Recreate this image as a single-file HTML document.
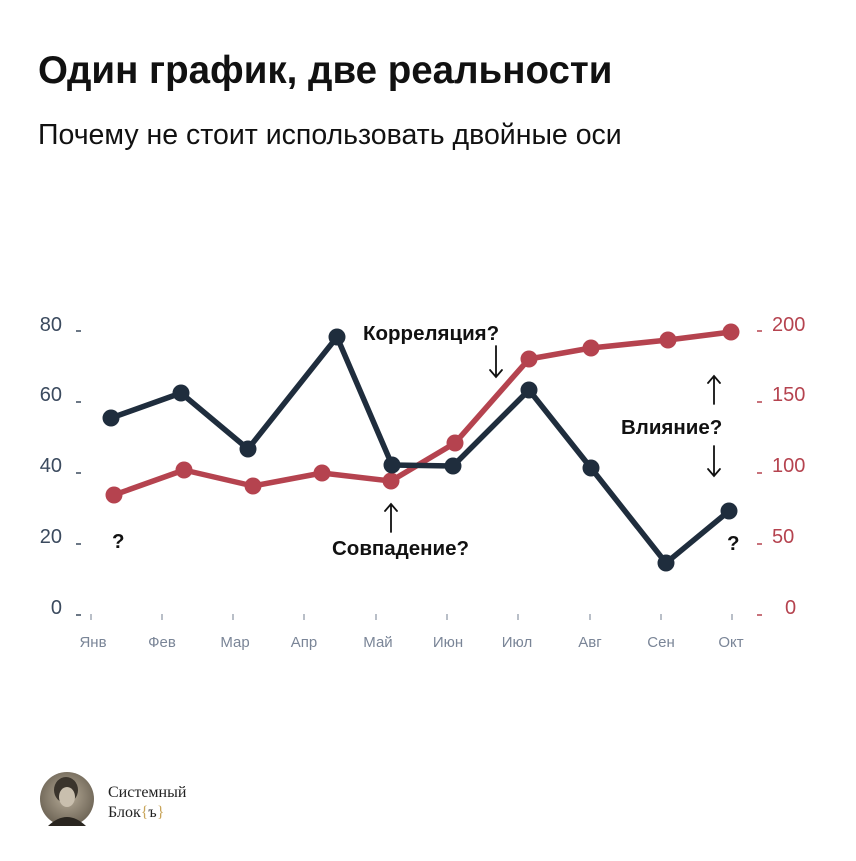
<!DOCTYPE html>
<html><head><meta charset="utf-8"><style>
body{margin:0;background:#fff;width:856px;height:856px;overflow:hidden;font-family:"Liberation Sans","Noto Sans CJK SC",sans-serif}
</style></head><body>
<svg width="856" height="856" viewBox="0 0 856 856" xmlns="http://www.w3.org/2000/svg" font-family="Liberation Sans, DejaVu Sans, sans-serif">
<text x="38" y="83" font-size="38.5" font-weight="bold" fill="#111">Один график, две реальности</text>
<text x="38" y="144" font-size="28.5" fill="#111">Почему не стоит использовать двойные оси</text>
<g font-size="20" fill="#3b4a5e" text-anchor="end">
<text x="62" y="331">80</text><text x="62" y="401">60</text><text x="62" y="472">40</text><text x="62" y="543">20</text><text x="62" y="614">0</text>
</g>
<g stroke="#3b4a5e" stroke-width="1.5">
<line x1="76" y1="331" x2="81" y2="331"/><line x1="76" y1="402" x2="81" y2="402"/><line x1="76" y1="473" x2="81" y2="473"/><line x1="76" y1="544" x2="81" y2="544"/><line x1="76" y1="615" x2="81" y2="615"/>
</g>
<g font-size="20" fill="#b5434f">
<text x="772" y="331">200</text><text x="772" y="401">150</text><text x="772" y="472">100</text><text x="772" y="543">50</text><text x="785" y="614">0</text>
</g>
<g stroke="#b5434f" stroke-width="1.5">
<line x1="757" y1="331" x2="762" y2="331"/><line x1="757" y1="402" x2="762" y2="402"/><line x1="757" y1="473" x2="762" y2="473"/><line x1="757" y1="544" x2="762" y2="544"/><line x1="757" y1="615" x2="762" y2="615"/>
</g>
<g stroke="#8a94a3" stroke-width="1.2">
<line x1="91" y1="614" x2="91" y2="620"/><line x1="162" y1="614" x2="162" y2="620"/><line x1="233" y1="614" x2="233" y2="620"/><line x1="304" y1="614" x2="304" y2="620"/><line x1="376" y1="614" x2="376" y2="620"/><line x1="447" y1="614" x2="447" y2="620"/><line x1="518" y1="614" x2="518" y2="620"/><line x1="590" y1="614" x2="590" y2="620"/><line x1="661" y1="614" x2="661" y2="620"/><line x1="732" y1="614" x2="732" y2="620"/>
</g>
<g font-size="15" fill="#7a8597" text-anchor="middle">
<text x="93" y="647">Янв</text><text x="162" y="647">Фев</text><text x="235" y="647">Мар</text><text x="304" y="647">Апр</text><text x="378" y="647">Май</text><text x="448" y="647">Июн</text><text x="517" y="647">Июл</text><text x="590" y="647">Авг</text><text x="661" y="647">Сен</text><text x="731" y="647">Окт</text>
</g>
<polyline fill="none" stroke="#b5434f" stroke-width="5.5" stroke-linejoin="round" points="114,495 184,470 253,486 322,473 391,481 455,443 529,359 591,348 668,340 731,332"/>
<g fill="#b5434f">
<circle cx="114" cy="495" r="8.5"/><circle cx="184" cy="470" r="8.5"/><circle cx="253" cy="486" r="8.5"/><circle cx="322" cy="473" r="8.5"/><circle cx="391" cy="481" r="8.5"/><circle cx="455" cy="443" r="8.5"/><circle cx="529" cy="359" r="8.5"/><circle cx="591" cy="348" r="8.5"/><circle cx="668" cy="340" r="8.5"/><circle cx="731" cy="332" r="8.5"/>
</g>
<polyline fill="none" stroke="#1f2d3d" stroke-width="5.5" stroke-linejoin="round" points="111,418 181,393 248,449 337,337 392,465 453,466 529,390 591,468 666,563 729,511"/>
<g fill="#1f2d3d">
<circle cx="111" cy="418" r="8.5"/><circle cx="181" cy="393" r="8.5"/><circle cx="248" cy="449" r="8.5"/><circle cx="337" cy="337" r="8.5"/><circle cx="392" cy="465" r="8.5"/><circle cx="453" cy="466" r="8.5"/><circle cx="529" cy="390" r="8.5"/><circle cx="591" cy="468" r="8.5"/><circle cx="666" cy="563" r="8.5"/><circle cx="729" cy="511" r="8.5"/>
</g>
<g font-size="20.5" font-weight="bold" fill="#111">
<text x="363" y="340">Корреляция?</text>
<text x="332" y="555">Совпадение?</text>
<text x="621" y="434">Влияние?</text>
<text x="112" y="548">?</text>
<text x="727" y="550">?</text>
</g>
<g stroke="#111" stroke-width="1.8" fill="none" stroke-linecap="round">
<path d="M496 346 V377 M490 370 L496 377 L502 370"/>
<path d="M391 532 V504 M385 511 L391 504 L397 511"/>
<path d="M714 404 V376 M708 383 L714 376 L720 383"/>
<path d="M714 446 V476 M708 469 L714 476 L720 469"/>
</g>
<defs><radialGradient id="g" cx="50%" cy="45%" r="55%"><stop offset="0" stop-color="#b8ad9a"/><stop offset="1" stop-color="#6e6556"/></radialGradient></defs>
<circle cx="67" cy="799" r="27" fill="url(#g)"/>
<ellipse cx="66" cy="790" rx="12" ry="13" fill="#3a342c"/>
<ellipse cx="67" cy="797" rx="8" ry="10" fill="#c9bfae"/>
<path d="M48 826 Q67 808 86 826 Z" fill="#2a2620"/>
<g font-family="Liberation Serif, DejaVu Serif, serif" font-size="16" fill="#222">
<text x="108" y="797">Системный</text>
<text x="108" y="817">Блок<tspan fill="#c9a55a">{</tspan>ъ<tspan fill="#c9a55a">}</tspan></text>
</g>
</svg>
</body></html>
